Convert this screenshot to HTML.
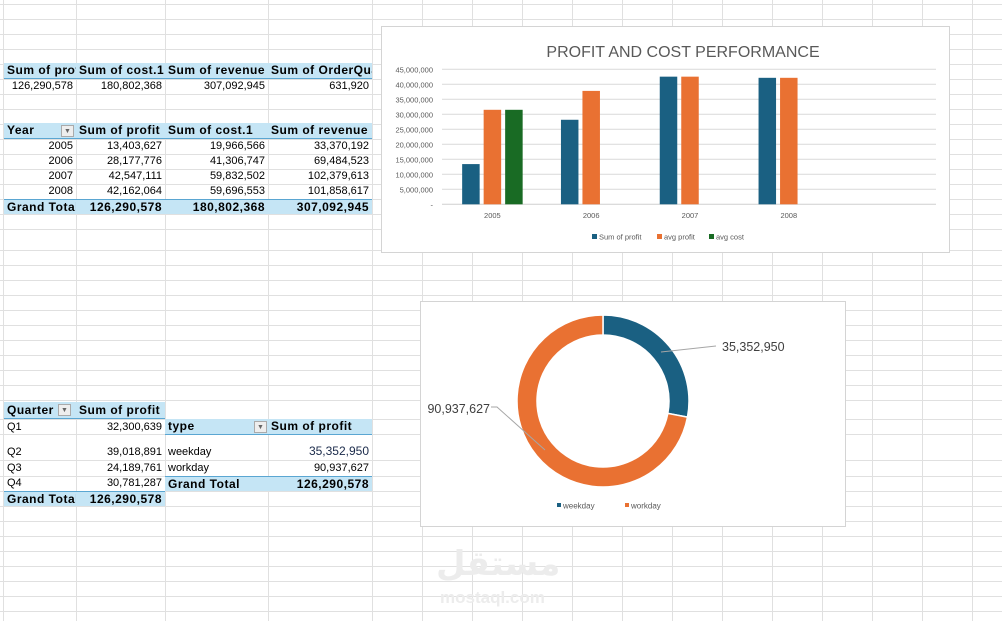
<!DOCTYPE html>
<html><head><meta charset="utf-8">
<style>
body{margin:0;width:1002px;height:621px;overflow:hidden;background:#fff;font-family:"Liberation Sans",sans-serif;position:relative}
#grid{position:absolute;left:0;top:0}
.c{position:absolute;font-size:11px;line-height:14px;white-space:nowrap;overflow:hidden;color:#000;box-sizing:border-box;padding:0 3px}
.r{text-align:right}
.b{font-weight:bold;font-size:12px;letter-spacing:0.5px}
.hd{background:#c5e5f5;border-bottom:1px solid #5aa6d2}
.gt{background:#c5e5f5;border-top:1px solid #5aa6d2}
.dd{position:absolute;width:13px;height:12px;border:1px solid #aaa;background:#eee;box-sizing:border-box;font-size:7px;line-height:11px;text-align:center;color:#666}
.chart{position:absolute;background:#fff;border:1px solid #d4d4d4;box-sizing:border-box}
</style></head><body>
<svg id="grid" width="1002" height="621"></svg>

<!-- Table 1 -->
<div class="c hd b" style="left:4px;top:63px;width:72px;height:16px">Sum of profit</div>
<div class="c hd b" style="left:76px;top:63px;width:89px;height:16px">Sum of cost.1</div>
<div class="c hd b" style="left:165px;top:63px;width:103px;height:16px">Sum of revenue</div>
<div class="c hd b" style="left:268px;top:63px;width:104px;height:16px">Sum of OrderQuantity</div>
<div class="c r" style="left:4px;top:79px;width:72px">126,290,578</div>
<div class="c r" style="left:76px;top:79px;width:89px">180,802,368</div>
<div class="c r" style="left:165px;top:79px;width:103px">307,092,945</div>
<div class="c r" style="left:268px;top:79px;width:104px">631,920</div>

<!-- Table 2 -->
<div class="c hd b" style="left:4px;top:123px;width:72px;height:16px">Year</div>
<div class="dd" style="left:61px;top:125px">▼</div>
<div class="c hd b" style="left:76px;top:123px;width:89px;height:16px">Sum of profit</div>
<div class="c hd b" style="left:165px;top:123px;width:103px;height:16px">Sum of cost.1</div>
<div class="c hd b" style="left:268px;top:123px;width:104px;height:16px">Sum of revenue</div>
<div id="yeartable"></div>

<!-- Quarter table -->
<div class="c hd b" style="left:4px;top:402px;width:72px;height:17px;line-height:17px">Quarter</div>
<div class="dd" style="left:58px;top:404px">▼</div>
<div class="c hd b" style="left:76px;top:402px;width:89px;height:17px;line-height:17px">Sum of profit</div>
<div class="c" style="left:4px;top:420px;width:72px">Q1</div>
<div class="c r" style="left:76px;top:420px;width:89px">32,300,639</div>
<div class="c" style="left:4px;top:445px;width:72px">Q2</div>
<div class="c r" style="left:76px;top:445px;width:89px">39,018,891</div>
<div class="c" style="left:4px;top:461px;width:72px">Q3</div>
<div class="c r" style="left:76px;top:461px;width:89px">24,189,761</div>
<div class="c" style="left:4px;top:476px;width:72px">Q4</div>
<div class="c r" style="left:76px;top:476px;width:89px">30,781,287</div>
<div class="c gt b" style="left:4px;top:491px;width:72px;height:15px">Grand Total</div>
<div class="c gt b r" style="left:76px;top:491px;width:89px;height:15px">126,290,578</div>

<!-- Type table -->
<div class="c hd b" style="left:165px;top:419px;width:103px;height:16px">type</div>
<div class="dd" style="left:254px;top:421px">▼</div>
<div class="c hd b" style="left:268px;top:419px;width:104px;height:16px">Sum of profit</div>
<div class="c" style="left:165px;top:445px;width:103px">weekday</div>
<div class="c r" style="left:268px;top:444px;width:104px;font-size:12px;color:#1a2a4a">35,352,950</div>
<div class="c" style="left:165px;top:461px;width:103px">workday</div>
<div class="c r" style="left:268px;top:461px;width:104px">90,937,627</div>
<div class="c gt b" style="left:165px;top:476px;width:103px;height:15px">Grand Total</div>
<div class="c gt b r" style="left:268px;top:476px;width:104px;height:15px">126,290,578</div>

<!-- Bar chart -->
<div class="chart" style="left:381px;top:26px;width:569px;height:227px">
<svg id="bar" width="569" height="227" style="position:absolute;left:-1px;top:-1px"></svg>
</div>

<!-- Donut chart -->
<div class="chart" style="left:420px;top:301px;width:426px;height:226px">
<svg id="donut" width="426" height="226" style="position:absolute;left:-1px;top:-1px"></svg>
</div>

<div style="position:absolute;left:436px;top:544px;font:bold 34px 'DejaVu Sans',sans-serif;color:#ececec">مستقل</div>
<div style="position:absolute;left:440px;top:588px;font:bold 17px 'Liberation Sans',sans-serif;color:#ececec">mostaql.com</div>

<script>
const NS='http://www.w3.org/2000/svg';
function mk(p,t,a){const e=document.createElementNS(NS,t);for(const k in a)e.setAttribute(k,a[k]);p.appendChild(e);return e;}
// grid
const g=document.getElementById('grid');
const colX=[3,76,165,268,372,422,472,522,572,622,672,722,772,822,872,922,972];
const rowY=[4,19,34,49,64,79,94,109,124,139,154,169,184,199,214,229,250,265,280,295,310,325,340,355,370,385,400,419,434,460,476,491,506,521,536,551,566,581,596,611];
colX.forEach(x=>{const l=mk(g,'line',{x1:x+.5,x2:x+.5,y1:0,y2:621,stroke:'#e0e0e0'});});
rowY.forEach(y=>{const l=mk(g,'line',{x1:0,x2:1002,y1:y+.5,y2:y+.5,stroke:'#e0e0e0'});});

// year table
const years=['2005','2006','2007','2008'];
const yProfit=['13,403,627','28,177,776','42,547,111','42,162,064'];
const yCost=['19,966,566','41,306,747','59,832,502','59,696,553'];
const yRev=['33,370,192','69,484,523','102,379,613','101,858,617'];
const yt=document.getElementById('yeartable');
function cell(txt,l,t,w,cls,name){const d=document.createElement('div');d.className='c '+cls;d.style.cssText=`left:${l}px;top:${t}px;width:${w}px;height:15px`;d.textContent=txt;


yt.appendChild(d);}
years.forEach((y,i)=>{const t=139+15*i;cell(y,4,t,72,'r','year-'+y);cell(yProfit[i],76,t,89,'r','profit-'+y);cell(yCost[i],165,t,103,'r','cost-'+y);cell(yRev[i],268,t,104,'r','revenue-'+y);});
cell('Grand Total',4,199,72,'gt b','year-grand-total-label');cell('126,290,578',76,199,89,'gt b r','year-grand-profit');cell('180,802,368',165,199,103,'gt b r','year-grand-cost');cell('307,092,945',268,199,104,'gt b r','year-grand-revenue');

// bar chart
const categories=['2005','2006','2007','2008',''];
const sumProfit=[13403627,28177776,42547111,42162064,null];
const avgProfit=[31500000,37800000,42547111,42162064,null];
const avgCost=[31500000,null,null,null,null];
const yTicks=[0,5e6,10e6,15e6,20e6,25e6,30e6,35e6,40e6,45e6];
const yTickLabels=['-','5,000,000','10,000,000','15,000,000','20,000,000','25,000,000','30,000,000','35,000,000','40,000,000','45,000,000'];
const series=[{name:'Sum of profit',vals:sumProfit,color:'#1a6082'},{name:'avg profit',vals:avgProfit,color:'#e97132'},{name:'avg cost',vals:avgCost,color:'#196b24'}];
const bs=document.getElementById('bar');
const ox=381,oy=26;
const plotL=442-ox,plotR=936-ox,y0=204.3-oy,y45=69.3-oy;
const yScale=v=>y0-(v/45e6)*(y0-y45);
const catW=(plotR-plotL)/categories.length;
const xCat=i=>plotL+catW*(i+0.5);
const t=mk(bs,'text',{x:302,y:31,'text-anchor':'middle','font-size':'16',fill:'#595959','font-family':'Liberation Sans, sans-serif'});t.textContent='PROFIT AND COST PERFORMANCE';


yTicks.forEach((v,i)=>{const y=yScale(v);
 const l=mk(bs,'line',{x1:plotL,x2:plotR,y1:y,y2:y,stroke:i==0?'#cfcfcf':'#d9d9d9'});
 
 
 const tx=mk(bs,'text',{x:plotL-9,y:y+3,'text-anchor':'end','font-size':'7.5',fill:'#595959'});tx.textContent=yTickLabels[i];
 
 });
const barW=17.5,slot=21.5;
categories.forEach((c,i)=>{const cx=xCat(i);
 const tx=mk(bs,'text',{x:cx+1,y:192,'text-anchor':'middle','font-size':'7.5',fill:'#595959'});tx.textContent=c;
 
 
 series.forEach((s,j)=>{const v=s.vals[i];if(v==null)return;const x=cx+(j-1)*slot-barW/2+1;
  const r=mk(bs,'rect',{x:x,y:yScale(v),width:barW,height:y0-yScale(v),fill:s.color});
  
  });});
const legX=[211,276,328];
series.forEach((s,j)=>{const r=mk(bs,'rect',{x:legX[j],y:208,width:5,height:5,fill:s.color});
 
 
 const tx=mk(bs,'text',{x:legX[j]+7,y:213.5,'font-size':'7.5',fill:'#595959'});tx.textContent=s.name;
 
 });

// donut
const types=['weekday','workday'];
const typeValues=[35352950,90937627];
const typeLabels=['35,352,950','90,937,627'];
const typeColors=['#1a6082','#e97132'];
const ds=document.getElementById('donut');
const dcx=603-420,dcy=401-301,R=86,r=66;
const total=typeValues.reduce((a,b)=>a+b,0);
let a0=-Math.PI/2;
const pt=(rad,a)=>[dcx+rad*Math.cos(a),dcy+rad*Math.sin(a)];
typeValues.forEach((v,i)=>{const a1=a0+v/total*2*Math.PI;const large=(a1-a0)>Math.PI?1:0;
 const p1=pt(R,a0),p2=pt(R,a1),p3=pt(r,a1),p4=pt(r,a0);
 const p=mk(ds,'path',{d:`M${p1}L${p1}A${R},${R} 0 ${large} 1 ${p2}L${p3}A${r},${r} 0 ${large} 0 ${p4}Z`,fill:typeColors[i],stroke:'#fff','stroke-width':1.5});
 
 
 a0=a1;});
const l1=mk(ds,'polyline',{points:`${661-420},${352-301} ${716-420},${346-301}`,fill:'none',stroke:'#a6a6a6'});


const l2=mk(ds,'polyline',{points:`${545-420},${450-301} ${497-420},${407-301} ${491-420},${407-301}`,fill:'none',stroke:'#a6a6a6'});


const dl1=mk(ds,'text',{x:722-420,y:351-301,'font-size':'12.5',fill:'#404040'});dl1.textContent=typeLabels[0];


const dl2=mk(ds,'text',{x:490-420,y:413-301,'text-anchor':'end','font-size':'12.5',fill:'#404040'});dl2.textContent=typeLabels[1];


const dlx=[557-420,625-420];
types.forEach((ty,i)=>{const r2=mk(ds,'rect',{x:dlx[i],y:202,width:4,height:4,fill:typeColors[i]});
 
 
 const tx=mk(ds,'text',{x:dlx[i]+6,y:207.5,'font-size':'8',fill:'#595959'});tx.textContent=ty;
 
 });
</script>
</body></html>
